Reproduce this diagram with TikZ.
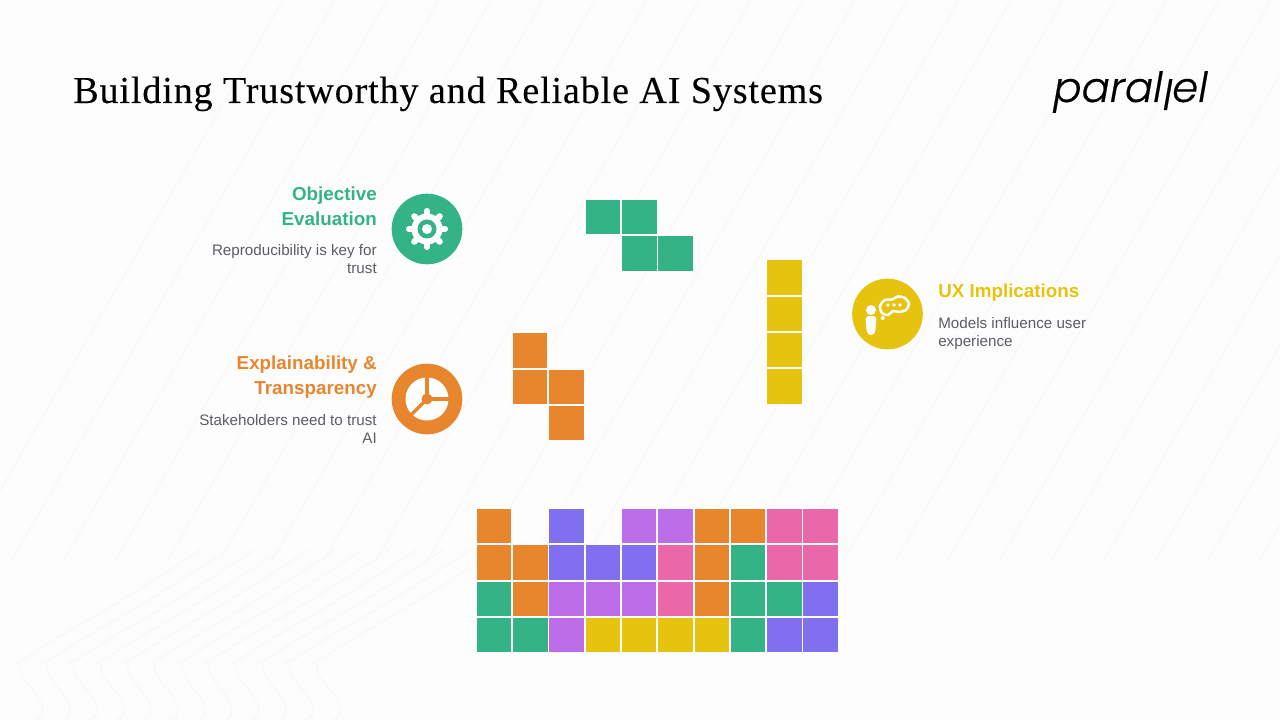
\documentclass[tikz,border=0pt]{standalone}
\usepackage{fontspec}
\usetikzlibrary{positioning,calc}
\setmainfont{Liberation Sans}
\newfontfamily\titlefont[LetterSpace=2.2,FakeBold=0.15]{Liberation Serif}
\newfontfamily\logofont[FakeBold=0.5]{Poppins Light}
\definecolor{pagebg}{HTML}{FEFDFE}
\definecolor{bgline}{HTML}{F8F6F9}
\definecolor{tgreen}{HTML}{34B386}
\definecolor{torange}{HTML}{E8862E}
\definecolor{tblue}{HTML}{806FEE}
\definecolor{tviolet}{HTML}{BE6DE8}
\definecolor{tpink}{HTML}{EA67A9}
\definecolor{tyellow}{HTML}{E5C30E}
\definecolor{bodygrey}{HTML}{5C5C64}
\def\nocell{none}
\tikzset{
  cell/.style={minimum size=25.9pt, inner sep=0pt, outer sep=0pt},
  icon/.style={circle, minimum size=53pt, inner sep=0pt},
  headtext/.style={inner sep=0pt, align=right, font=\fontsize{14.1}{18.2}\selectfont\bfseries},
  bodytext/.style={inner sep=0pt, align=right, text=bodygrey, font=\fontsize{11.4}{13.5}\selectfont},
}
\begin{document}
\begin{tikzpicture}[x=0.75pt, y=-0.75pt]

  % page and its faint texture
  \path[use as bounding box, fill=pagebg] (0,0) rectangle (1280,720);
  \begin{scope}
    \clip (0,0) rectangle (1280,720);
    \foreach \k in {0,...,30}
      \draw[bgline, line width=0.7pt] ({\k*52-40},560) -- ({\k*52+283},0);
    \foreach \k in {0,...,11}
      \draw[bgline, line width=0.7pt] plot[smooth, tension=1] coordinates
        {({\k*27+35},720) ({\k*27+42},705) ({\k*27+20},668) ({\k*27+35},652) ({\k*27+130},595) ({\k*27+200},550)};
  \end{scope}

  % title and logo
  \node[inner sep=0pt, anchor=base west, font=\fontsize{28.6}{34}\selectfont\titlefont] (title) at (73,103)
    {Building Trustworthy and Reliable AI Systems};
  \node[inner sep=0pt, anchor=base east, font=\fontsize{31.3}{34}\selectfont\logofont\itshape] (logo) at (1208,102)
    {paral\raisebox{-6pt}{l}el};

  % falling blocks
  \foreach \px/\py/\name in {603/217/a, 639.3/217/b, 639.3/253.3/c, 675.6/253.3/d}
    \node[cell, fill=tgreen] (green-\name) at (\px,\py) {};
  \foreach \px/\py/\name in {530.2/350.5/a, 530.2/386.8/b, 566.5/386.8/c, 566.5/423.1/d}
    \node[cell, fill=torange] (orange-\name) at (\px,\py) {};
  \foreach \py/\name in {277.5/a, 313.8/b, 350.1/c, 386.4/d}
    \node[cell, fill=tyellow] (yellow-\name) at (784.6,\py) {};

  % stacked blocks
  \foreach \cellrow [count=\rowno] in {
      {torange,none,tblue,none,tviolet,tviolet,torange,torange,tpink,tpink},
      {torange,torange,tblue,tblue,tblue,tpink,torange,tgreen,tpink,tpink},
      {tgreen,torange,tviolet,tviolet,tviolet,tpink,torange,tgreen,tgreen,tblue},
      {tgreen,tgreen,tviolet,tyellow,tyellow,tyellow,tyellow,tgreen,tblue,tblue}}
    \foreach \cellcol [count=\colno] in \cellrow {
      \ifx\cellcol\nocell\else
        \node[cell, fill=\cellcol] (cell-\rowno-\colno) at ({494+36.3*(\colno-1)},{526.2+36.3*(\rowno-1)}) {};
      \fi
    }

  % objective evaluation
  \node[icon, fill=tgreen] (evalicon) at (427,229) {};
  \fill[white] (evalicon.center) circle (15.5);
  \foreach \a in {0,45,...,315}
    \draw[white, line width=4.6pt, line cap=round] (evalicon.center) -- ++(\a:18);
  \fill[tgreen] (evalicon.center) circle (9.5);
  \fill[white] (evalicon.center) circle (5);
  \node[headtext, text=tgreen, anchor=north east] (evalhead) at (377,187) {Objective\\Evaluation};
  \node[bodytext, anchor=north east] (evalbody) at (377,244) {Reproducibility is key for\\trust};

  % explainability
  \node[icon, fill=torange] (explicon) at (427,399) {};
  \fill[white] (explicon.center) circle (21.5);
  \foreach \a in {-90,0,135}
    \draw[torange, line width=2.4pt] (explicon.center) -- ++(\a:22);
  \fill[torange] (explicon.center) circle (5.5);
  \node[headtext, text=torange, anchor=north east] (explhead) at (377,356) {Explainability \&\\Transparency};
  \node[bodytext, anchor=north east] (explbody) at (377,414) {Stakeholders need to trust\\AI};

  % ux implications
  \node[icon, fill=tyellow] (uxicon) at (887.5,314) {};
  \fill[white] (871,310) circle (5);
  \fill[white, rounded corners=2.5pt] (865.5,316) -- (876.5,316) -- (876,326) -- (874.5,335) -- (867.5,335) -- (866,326) -- cycle;
  \draw[white, line width=1.9pt] plot[smooth cycle] coordinates
    {(880,306) (885,300) (892,299.5) (898,296.5) (905,298) (909,304) (906,310) (899,312) (893,311) (888,315) (882,313)};
  \foreach \px in {888,894,900}
    \fill[white] (\px,305) circle (1.8);
  \fill[white] (882.7,318) circle (2);
  \node[headtext, text=tyellow, anchor=north west] (uxhead) at (938,284) {UX Implications};
  \node[bodytext, anchor=north west, align=left] (uxbody) at (938,317) {Models influence user\\experience};

\end{tikzpicture}
\end{document}
